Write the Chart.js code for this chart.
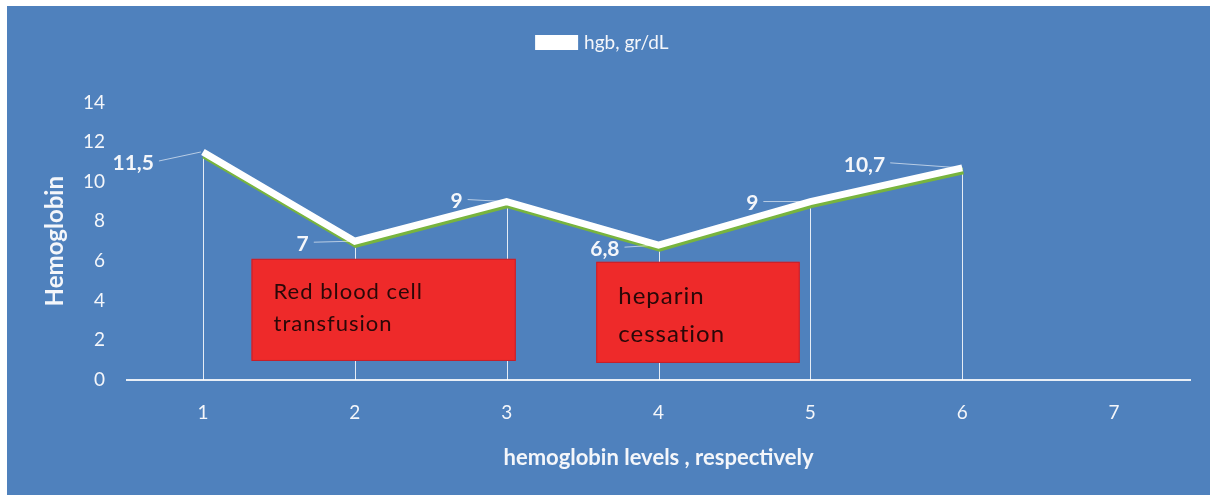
<!DOCTYPE html>
<html>
<head>
<meta charset="utf-8">
<script src="https://cdn.jsdelivr.net/npm/chart.js@4.4.0/dist/chart.umd.min.js"></script>
<style>
  html, body { margin: 0; background: #ffffff; }
  #panel { position: absolute; left: 7px; top: 6px; width: 1203px; height: 489px; background: #4f81bd; }
</style>
</head>
<body>
<div id="panel"><canvas id="hgbChart"></canvas></div>
<script>
// Hemoglobin readings, in order of measurement
const categories = ['1', '2', '3', '4', '5', '6', '7'];
const hgbValues = [11.5, 7, 9, 6.8, 9, 10.7, null];
const valueLabels = ['11,5', '7', '9', '6,8', '9', '10,7', ''];
const yTicks = [0, 2, 4, 6, 8, 10, 12, 14];

// Clinical events, each spanning a range on the category and value axes
const eventTexts = [['Red blood cell', 'transfusion'], ['heparin', 'cessation']];
const eventSpans = [
  { from: 0.32, to: 2.06, top: 6.11, bottom: 0.96, size: 22, first: 40, gap: 32 },
  { from: 2.59, to: 3.93, top: 5.96, bottom: 0.86, size: 24, first: 42, gap: 38 }
];

// Pixel nudges for each value label (placed to the left of its point)
const labelNudges = [[-49, 11], [-46, 3], [-44, 0], [-39, 4], [-52, 2], [-77, -3]];

const FONT = "Lato, 'Noto Sans', sans-serif";
const WHITE = '#f4f6fa';

const overlay = {
  id: 'overlay',
  beforeDatasetsDraw(chart) {
    // drop lines from each point to the category axis
    const ctx = chart.ctx;
    const meta = chart.getDatasetMeta(0);
    const yZero = chart.scales.y.getPixelForValue(0);
    ctx.save();
    ctx.strokeStyle = 'rgba(255,255,255,0.85)';
    ctx.lineWidth = 1;
    meta.data.forEach((pt, i) => {
      if (hgbValues[i] == null) return;
      const x = Math.round(pt.x) + 0.5;
      ctx.beginPath();
      ctx.moveTo(x, pt.y);
      ctx.lineTo(x, yZero);
      ctx.stroke();
    });
    ctx.restore();
  },
  beforeDatasetDraw(chart) {
    const ctx = chart.ctx;
    ctx.save();
    ctx.shadowColor = '#78b43e';
    ctx.shadowOffsetX = 1;
    ctx.shadowOffsetY = 3;
    ctx.shadowBlur = 0;
  },
  afterDatasetDraw(chart) {
    chart.ctx.restore();
  },
  afterDatasetsDraw(chart) {
    const ctx = chart.ctx;
    const meta = chart.getDatasetMeta(0);
    const xs = chart.scales.x, ys = chart.scales.y;

    // value labels with leader lines
    ctx.save();
    ctx.font = 'bold 21px ' + FONT;
    ctx.textAlign = 'right';
    ctx.textBaseline = 'middle';
    meta.data.forEach((pt, i) => {
      if (hgbValues[i] == null) return;
      const [dx, dy] = labelNudges[i];
      const lx = pt.x + dx, ly = pt.y + dy;
      ctx.strokeStyle = 'rgba(255,255,255,0.6)';
      ctx.lineWidth = 1;
      ctx.beginPath();
      ctx.moveTo(lx + 5, ly - 2);
      ctx.lineTo(pt.x - 2, pt.y);
      ctx.stroke();
      ctx.fillStyle = WHITE;
      ctx.fillText(valueLabels[i], lx, ly);
    });
    ctx.restore();

    // event boxes
    eventSpans.forEach((s, k) => {
      const x0 = xs.getPixelForValue(s.from), x1 = xs.getPixelForValue(s.to);
      const y0 = ys.getPixelForValue(s.top), y1 = ys.getPixelForValue(s.bottom);
      ctx.save();
      ctx.fillStyle = '#ee2a2a';
      ctx.strokeStyle = '#c4202c';
      ctx.lineWidth = 1;
      ctx.fillRect(x0, y0, x1 - x0, y1 - y0);
      ctx.strokeRect(x0 + 0.5, y0 + 0.5, x1 - x0 - 1, y1 - y0 - 1);
      ctx.fillStyle = '#2a0808';
      ctx.font = s.size + 'px ' + FONT;
      ctx.letterSpacing = '1px';
      ctx.textAlign = 'left';
      ctx.textBaseline = 'alphabetic';
      eventTexts[k].forEach((t, j) => ctx.fillText(t, x0 + 22, y0 + s.first + j * s.gap));
      ctx.restore();
    });
  }
};

new Chart(document.getElementById('hgbChart'), {
  type: 'line',
  data: {
    labels: categories,
    datasets: [{
      label: 'hgb, gr/dL',
      data: hgbValues,
      borderColor: '#ffffff',
      backgroundColor: '#ffffff',
      borderWidth: 7,
      pointRadius: 0,
      tension: 0,
      spanGaps: false
    }]
  },
  options: {
    responsive: true,
    maintainAspectRatio: false,
    animation: false,
    layout: { padding: { top: 0, left: 10, right: 20, bottom: 0 } },
    plugins: {
      legend: {
        display: true,
        position: 'top',
        labels: {
          color: WHITE,
          font: { family: FONT, size: 19 },
          boxWidth: 36,
          boxHeight: 8,
          padding: 27
        }
      },
      // blank band between the legend and the plot
      title: {
        display: true,
        text: ' ',
        position: 'top',
        weight: 500,
        font: { size: 12 },
        padding: { top: 0, bottom: 26 }
      },
      tooltip: { enabled: false }
    },
    scales: {
      x: {
        offset: true,
        grid: { display: false, drawTicks: false },
        border: { display: true, color: '#e8eef6', width: 2 },
        ticks: { color: WHITE, font: { family: FONT, size: 19 }, padding: 21 },
        title: {
          display: true,
          text: 'hemoglobin levels , respectively',
          color: WHITE,
          font: { family: FONT, size: 22, weight: 'bold' },
          padding: { top: 14, bottom: 24 }
        },
        afterFit(scale) { scale.height = 115; }
      },
      y: {
        min: 0,
        max: 14,
        afterBuildTicks(scale) { scale.ticks = yTicks.map(v => ({ value: v })); },
        grid: { display: false, drawTicks: false },
        border: { display: false },
        ticks: { color: WHITE, font: { family: FONT, size: 19 }, padding: 22 },
        title: {
          display: true,
          text: 'Hemoglobin',
          color: WHITE,
          font: { family: FONT, size: 24, weight: 'bold' },
          padding: { top: 24, bottom: 0 }
        },
        afterFit(scale) { scale.width = 110; }
      }
    }
  },
  plugins: [overlay]
});
</script>
</body>
</html>
